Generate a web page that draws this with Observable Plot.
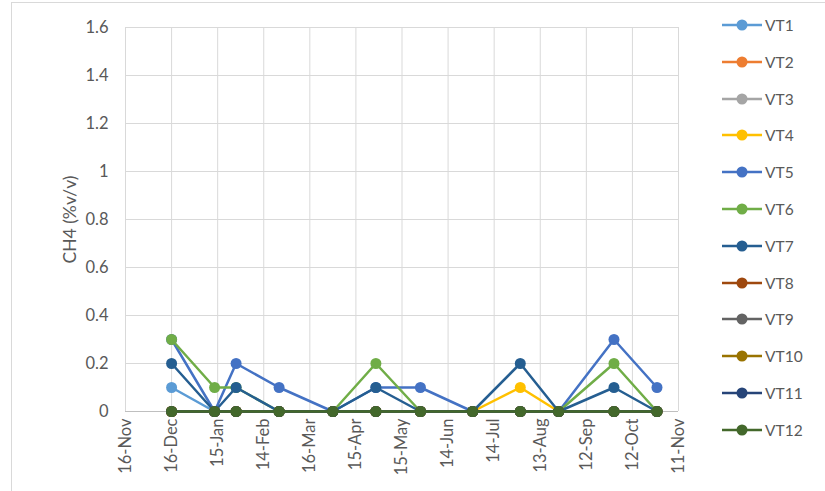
<!DOCTYPE html>
<html>
<head>
<meta charset="utf-8">
<script src="https://cdn.jsdelivr.net/npm/d3@7"></script>
<script src="https://cdn.jsdelivr.net/npm/@observablehq/plot@0.6"></script>
<style>
  html, body { margin: 0; padding: 0; background: #fff; }
  #wrap { position: relative; width: 825px; height: 491px; overflow: hidden; font-family: Lato, "Liberation Sans", sans-serif; }
  #border { position: absolute; left: 11px; top: 2px; width: 900px; height: 600px; border: 1px solid #D9D9D9; box-sizing: border-box; }
  #chart { position: absolute; left: 0; top: 0; }
  #legend { position: absolute; left: 721px; top: 0; }
  .item { position: absolute; left: 0; height: 20px; display: flex; align-items: center; white-space: nowrap; color: #595959; font-size: 15.5px; }
  .item span { margin-left: 2px; }
</style>
</head>
<body>
<div id="wrap">
  <div id="border"></div>
  <div id="chart"></div>
  <div id="legend"></div>
</div>
<script>
// ---- data ----
const sampleDates = ["2016-12-16","2017-01-13","2017-01-27","2017-02-24","2017-03-31","2017-04-28","2017-05-27","2017-06-30","2017-07-31","2017-08-25","2017-09-30","2017-10-28"];
const seriesNames = ["VT1","VT2","VT3","VT4","VT5","VT6","VT7","VT8","VT9","VT10","VT11","VT12"];
const seriesColors = ["#5B9BD5","#ED7D31","#A5A5A5","#FFC000","#4472C4","#70AD47","#255E91","#9E480E","#636363","#997300","#264478","#43682B"];
const VT1  = [0.1, 0, 0, 0, 0, 0, 0, 0, 0, 0, 0, 0];
const VT2  = [0, 0, 0, 0, 0, 0, 0, 0, 0, 0, 0, 0];
const VT3  = [0, 0, 0, 0, 0, 0, 0, 0, 0, 0, 0, 0];
const VT4  = [0, 0, 0, 0, 0, 0, 0, 0, 0.1, 0, 0, 0];
const VT5  = [0.3, 0, 0.2, 0.1, 0, 0.1, 0.1, 0, 0, 0, 0.3, 0.1];
const VT6  = [0.3, 0.1, 0.1, 0, 0, 0.2, 0, 0, 0, 0, 0.2, 0];
const VT7  = [0.2, 0, 0.1, 0, 0, 0.1, 0, 0, 0.2, 0, 0.1, 0];
const VT8  = [0, 0, 0, 0, 0, 0, 0, 0, 0, 0, 0, 0];
const VT9  = [0, 0, 0, 0, 0, 0, 0, 0, 0, 0, 0, 0];
const VT10 = [0, 0, 0, 0, 0, 0, 0, 0, 0, 0, 0, 0];
const VT11 = [0, 0, 0, 0, 0, 0, 0, 0, 0, 0, 0, 0];
const VT12 = [0, 0, 0, 0, 0, 0, 0, 0, 0, 0, 0, 0];
const seriesValues = [VT1, VT2, VT3, VT4, VT5, VT6, VT7, VT8, VT9, VT10, VT11, VT12];
const axisStart = "2016-11-16";
const axisEnd = "2017-11-11";
const tickStepDays = 30;
const yTicks = [0, 0.2, 0.4, 0.6, 0.8, 1, 1.2, 1.4, 1.6];
const yLabel = "CH4 (%v/v)";

// ---- build ----
const start = new Date(axisStart + "T00:00:00Z");
const end = new Date(axisEnd + "T00:00:00Z");
const xTicks = [];
for (let d = start; d <= end; d = d3.utcDay.offset(d, tickStepDays)) xTicks.push(d);
const fmt = d3.utcFormat("%-d-%b");

const marks = [
  Plot.gridY(yTicks, {stroke: "#D9D9D9", strokeOpacity: 1, strokeWidth: 1}),
  Plot.gridX(xTicks, {stroke: "#D9D9D9", strokeOpacity: 1, strokeWidth: 1}),
  Plot.ruleY([0], {stroke: "#BFBFBF", strokeWidth: 1}),
  Plot.axisY(yTicks, {tickSize: 0, tickPadding: 17, fill: "#595959",
    tickFormat: d => String(d), label: yLabel, labelAnchor: "center", labelArrow: "none", labelOffset: 62}),
  Plot.axisX(xTicks, {tickSize: 0, tickPadding: 7, tickRotate: -90, fill: "#595959",
    tickFormat: fmt, label: null})
];
seriesNames.forEach((name, i) => {
  const rows = sampleDates.map((d, j) => ({date: new Date(d + "T00:00:00Z"), v: seriesValues[i][j]}));
  marks.push(Plot.line(rows, {x: "date", y: "v", stroke: seriesColors[i], strokeWidth: 2.5}));
  marks.push(Plot.dot(rows, {x: "date", y: "v", fill: seriesColors[i], r: 5.5, stroke: "none"}));
});

const chart = Plot.plot({
  width: 825,
  height: 491,
  marginLeft: 125,
  marginRight: 147,
  marginTop: 27,
  marginBottom: 80,
  style: {fontFamily: "Lato, 'Liberation Sans', sans-serif", color: "#595959", background: "transparent", overflow: "visible"},
  x: {type: "utc", domain: [start, end]},
  y: {domain: [0, 1.6]},
  marks
});
// enlarge text by content (tick labels vs. axis title)
const yTickSet = new Set(yTicks.map(String));
const xTickSet = new Set(xTicks.map(fmt));
d3.select(chart).selectAll("text").each(function() {
  const t = this.textContent;
  let size = null;
  if (t === yLabel) size = "17.5px";
  else if (yTickSet.has(t)) size = "16.5px";
  else if (xTickSet.has(t)) size = "16.5px";
  if (size) {
    this.style.setProperty("font-size", size, "important");
    this.style.setProperty("font-family", "Lato, 'Liberation Sans', sans-serif", "important");
  }
});
document.getElementById("chart").appendChild(chart);

// ---- legend ----
const legend = d3.select("#legend");
seriesNames.forEach((name, i) => {
  const item = legend.append("div").attr("class", "item").style("top", (15 + i * 36.8) + "px");
  const svg = item.append("svg").attr("width", 42).attr("height", 14);
  svg.append("line").attr("x1", 1).attr("x2", 41).attr("y1", 7).attr("y2", 7)
    .attr("stroke", seriesColors[i]).attr("stroke-width", 2.5);
  svg.append("circle").attr("cx", 21).attr("cy", 7).attr("r", 5.5).attr("fill", seriesColors[i]);
  item.append("span").text(name);
});
</script>
</body>
</html>
